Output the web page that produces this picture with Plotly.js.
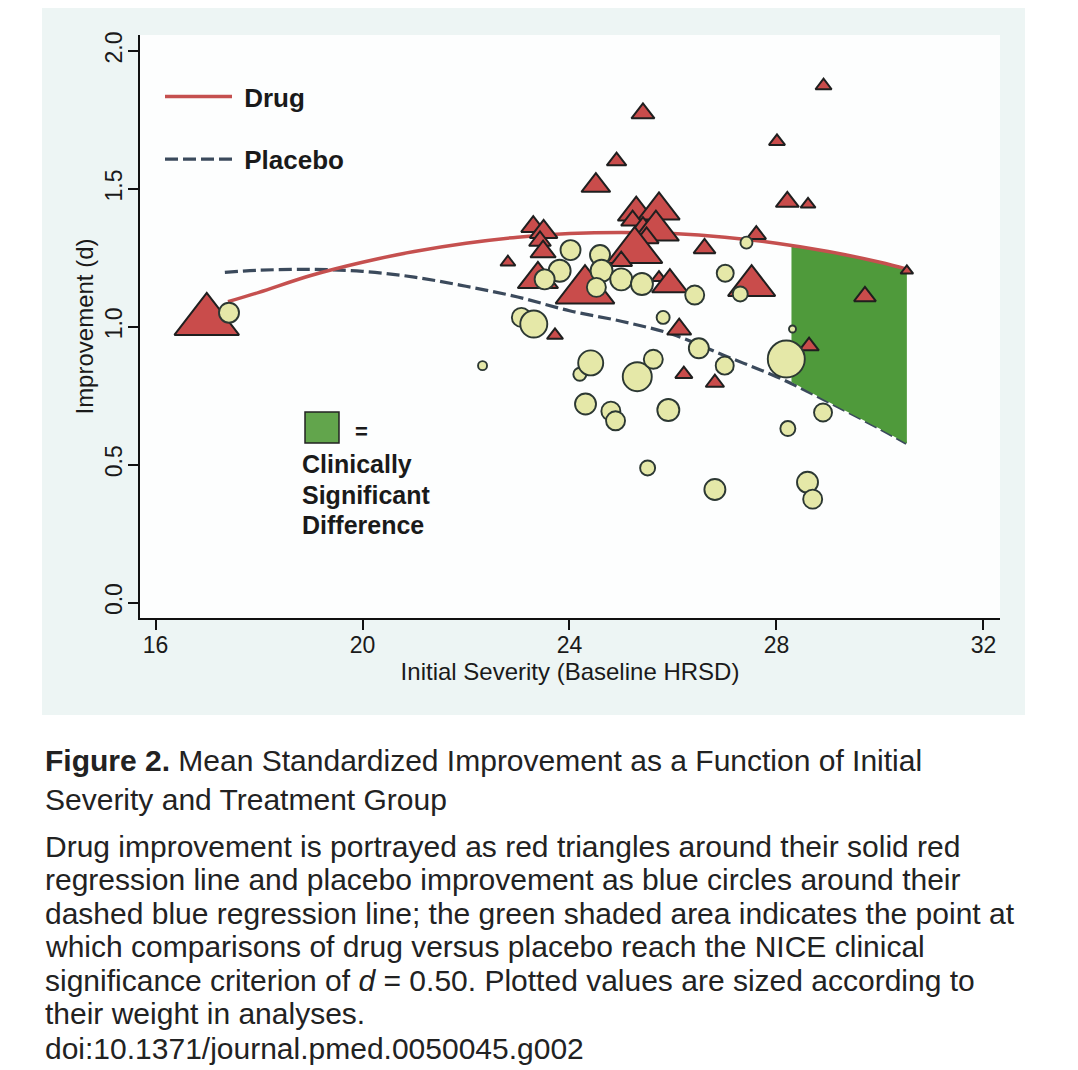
<!DOCTYPE html>
<html>
<head>
<meta charset="utf-8">
<script src="https://cdn.plot.ly/plotly-3.0.1.min.js"></script>
<style>html,body{margin:0;padding:0;background:#fff;}#chart{width:1078px;height:1070px;}</style>
</head>
<body>
<div id="chart"></div>
<script>
// ---- Data ----
// Drug studies (triangles): baseline HRSD, improvement d, marker size (weight)
const drugX = [16.99, 25.42, 24.91, 24.51, 25.29, 25.73, 25.22, 25.42, 25.67, 25.49, 25.26, 25.00, 25.73, 25.94, 26.61,
               23.30, 23.50, 23.43, 23.49, 23.39, 22.81, 24.30, 28.91, 28.01, 28.21, 28.61, 27.61, 27.52, 30.52, 29.71,
               28.63, 23.72, 26.12, 26.21, 26.81];
const drugY = [1.021, 1.774, 1.601, 1.512, 1.414, 1.422, 1.385, 1.358, 1.349, 1.322, 1.275, 1.238, 1.178, 1.153, 1.284,
               1.363, 1.344, 1.311, 1.272, 1.172, 1.234, 1.131, 1.874, 1.672, 1.453, 1.444, 1.334, 1.149, 1.203, 1.110,
               0.930, 0.969, 0.991, 0.828, 0.797];
const drugWeight = [56, 20, 17, 25, 32, 36, 20, 22, 40, 21, 48, 19, 13, 31, 19,
                    21, 24, 19, 22, 35, 13, 51, 14, 14, 20, 13, 17, 41, 11, 19,
                    17, 14, 21, 15, 16];

// Placebo studies (circles)
const placeboX = [17.42, 24.02, 23.81, 23.52, 24.59, 24.62, 24.52, 25.00, 25.40, 26.42, 27.01, 27.42, 27.30, 28.31,
                  23.07, 23.31, 22.32, 24.20, 24.41, 25.31, 25.62, 25.81, 26.50, 27.00, 24.31, 24.80, 24.89, 25.91,
                  25.51, 26.81, 28.19, 28.90, 28.22, 28.60, 28.70];
const placeboY = [1.051, 1.278, 1.203, 1.172, 1.260, 1.203, 1.143, 1.172, 1.155, 1.115, 1.194, 1.305, 1.119, 0.992,
                  1.034, 1.010, 0.859, 0.828, 0.869, 0.819, 0.882, 1.034, 0.922, 0.859, 0.720, 0.694, 0.659, 0.698,
                  0.488, 0.410, 0.883, 0.689, 0.631, 0.436, 0.375];
const placeboWeight = [20, 20, 22, 20, 20, 22, 19, 22, 22, 19, 17, 12, 15, 7,
                       19, 27, 9, 13, 25, 29, 19, 13, 20, 18, 21, 19, 19, 22,
                       15, 21, 37, 18, 15, 21, 19];

// Regression lines
const drugLineX = [17.40, 18, 19, 20, 21, 22, 23, 24, 25, 26, 27, 28, 29, 30, 30.52];
const drugLineY = [1.091, 1.125, 1.186, 1.234, 1.273, 1.303, 1.325, 1.338, 1.342, 1.338, 1.325, 1.303, 1.273, 1.234, 1.209];
const placeboLineX = [17.34, 18, 19, 20, 21, 22, 23, 24, 25, 26, 27, 28, 29, 30, 30.51];
const placeboLineY = [1.197, 1.205, 1.208, 1.201, 1.180, 1.147, 1.108, 1.058, 1.020, 0.972, 0.895, 0.819, 0.728, 0.630, 0.577];

// Clinically significant region (drug - placebo >= 0.50)
const sigX = [28.29, 29, 30, 30.52];
const sigTop = [1.290, 1.273, 1.234, 1.209];
const sigBottom = [0.800, 0.728, 0.630, 0.577];

// Axis ticks
const xTicks = [16, 20, 24, 28, 32];
const yTicks = [0.0, 0.5, 1.0, 1.5, 2.0];

// Caption
const captionLines = [
  "<b>Figure 2.</b> Mean Standardized Improvement as a Function of Initial",
  "Severity and Treatment Group",
  "Drug improvement is portrayed as red triangles around their solid red",
  "regression line and placebo improvement as blue circles around their",
  "dashed blue regression line; the green shaded area indicates the point at",
  "which comparisons of drug versus placebo reach the NICE clinical",
  "significance criterion of <i>d</i> = 0.50. Plotted values are sized according to",
  "their weight in analyses.",
  "doi:10.1371/journal.pmed.0050045.g002"
];

// ---- Layout helpers (pixel -> paper) ----
const L = 140, R = 1000, T = 35, B = 618;
const px = v => (v - L) / (R - L);
const py = v => (B - v) / (B - T);

const FONT = "Liberation Sans, Arial, Helvetica, sans-serif";
const NB = '\u00a0';

const traces = [
  {
    x: placeboLineX, y: placeboLineY, type: 'scatter', mode: 'lines', name: NB + 'Placebo',
    line: {color: '#3b4a5c', width: 3.2, dash: '13px,5px', shape: 'spline'},
    legendrank: 2, legendgroup: 'p', hoverinfo: 'skip'
  },
  {
    x: sigX.concat(sigX.slice().reverse()),
    y: sigTop.concat(sigBottom.slice().reverse()),
    type: 'scatter', mode: 'lines', fill: 'toself', fillcolor: '#4f9a3b',
    line: {width: 0, color: '#4f9a3b'}, showlegend: false, hoverinfo: 'skip'
  },
  {
    x: drugLineX, y: drugLineY, type: 'scatter', mode: 'lines', name: NB + 'Drug',
    line: {color: '#c5504f', width: 3.5, shape: 'spline'},
    legendrank: 1, legendgroup: 'd', hoverinfo: 'skip'
  },
  {
    x: drugX, y: drugY, type: 'scatter', mode: 'markers', showlegend: false,
    marker: {symbol: 'triangle-up', size: drugWeight, color: '#c94c4b', opacity: 1,
             line: {color: '#1f1f1f', width: 2}}
  },
  {
    x: placeboX, y: placeboY, type: 'scatter', mode: 'markers', showlegend: false,
    marker: {symbol: 'circle', size: placeboWeight, color: '#e5e8a8', opacity: 1,
             line: {color: '#2c3833', width: 1.9}}
  }
];

const shapes = [
  {type: 'rect', xref: 'paper', yref: 'paper', x0: px(42), x1: px(1025), y0: py(715), y1: py(8),
   fillcolor: '#edf5f4', line: {width: 0}, layer: 'below'},
  {type: 'rect', xref: 'paper', yref: 'paper', x0: 0, x1: 1, y0: 0, y1: 1,
   fillcolor: '#fdfefe', line: {width: 0}, layer: 'below'},
  {type: 'rect', xref: 'paper', yref: 'paper', x0: px(305), x1: px(339), y0: py(443), y1: py(412),
   fillcolor: '#62a54c', line: {color: '#222', width: 1.5}, layer: 'above'}
];

const annotations = [
  {text: '<b>=</b>', x: px(353), y: py(431), xref: 'paper', yref: 'paper', xanchor: 'left', yanchor: 'middle',
   showarrow: false, font: {family: FONT, size: 22, color: '#1a1a1a'}},
  {text: '<b>Clinically</b>', x: px(300), y: py(464), xref: 'paper', yref: 'paper', xanchor: 'left', yanchor: 'middle',
   showarrow: false, font: {family: FONT, size: 25, color: '#1a1a1a'}},
  {text: '<b>Significant</b>', x: px(300), y: py(495), xref: 'paper', yref: 'paper', xanchor: 'left', yanchor: 'middle',
   showarrow: false, font: {family: FONT, size: 25, color: '#1a1a1a'}},
  {text: '<b>Difference</b>', x: px(300), y: py(525), xref: 'paper', yref: 'paper', xanchor: 'left', yanchor: 'middle',
   showarrow: false, font: {family: FONT, size: 25, color: '#1a1a1a'}}
];

const capY = [760, 800, 846, 879, 913, 946, 980, 1014, 1048];
captionLines.forEach((t, i) => {
  annotations.push({text: t, x: px(43), y: py(capY[i]), xref: 'paper', yref: 'paper',
    xanchor: 'left', yanchor: 'middle', showarrow: false,
    font: {family: FONT, size: 30, color: '#222'}});
});

const layout = {
  width: 1078, height: 1070,
  margin: {l: L, r: 1078 - R, t: T, b: 1070 - B},
  paper_bgcolor: '#ffffff', plot_bgcolor: '#fdfefe',
  showlegend: true,
  legend: {x: px(160), y: py(73), xanchor: 'left', yanchor: 'top', xref: 'paper', yref: 'paper',
           bgcolor: 'rgba(0,0,0,0)', borderwidth: 0, itemwidth: 67,
           traceorder: 'grouped', tracegroupgap: 26,
           font: {family: FONT, size: 26, color: '#1a1a1a', weight: 'bold'}},
  xaxis: {range: [15.70, 32.32], tickvals: xTicks, ticktext: xTicks.map(String),
          showline: true, linecolor: '#111', linewidth: 2, mirror: false,
          ticks: 'outside', ticklen: 10, tickwidth: 2, tickcolor: '#111',
          ticklabelstandoff: -5,
          showgrid: false, zeroline: false,
          tickfont: {family: FONT, size: 23, color: '#1a1a1a'},
          title: {text: 'Initial Severity (Baseline HRSD)', standoff: 0,
                  font: {family: FONT, size: 24, color: '#1a1a1a'}}},
  yaxis: {range: [-0.056, 2.058], tickvals: yTicks, ticktext: yTicks.map(v => v.toFixed(1)),
          showline: true, linecolor: '#111', linewidth: 2,
          ticks: 'outside', ticklen: 10, tickwidth: 2, tickcolor: '#111',
          ticklabelstandoff: -3,
          tickangle: -90, showgrid: false, zeroline: false,
          tickfont: {family: FONT, size: 23, color: '#1a1a1a'},
          title: {text: 'Improvement (d)', standoff: 0,
                  font: {family: FONT, size: 24, color: '#1a1a1a'}}},
  shapes: shapes,
  annotations: annotations
};

Plotly.newPlot('chart', traces, layout, {displayModeBar: false, staticPlot: true});
</script>
</body>
</html>
